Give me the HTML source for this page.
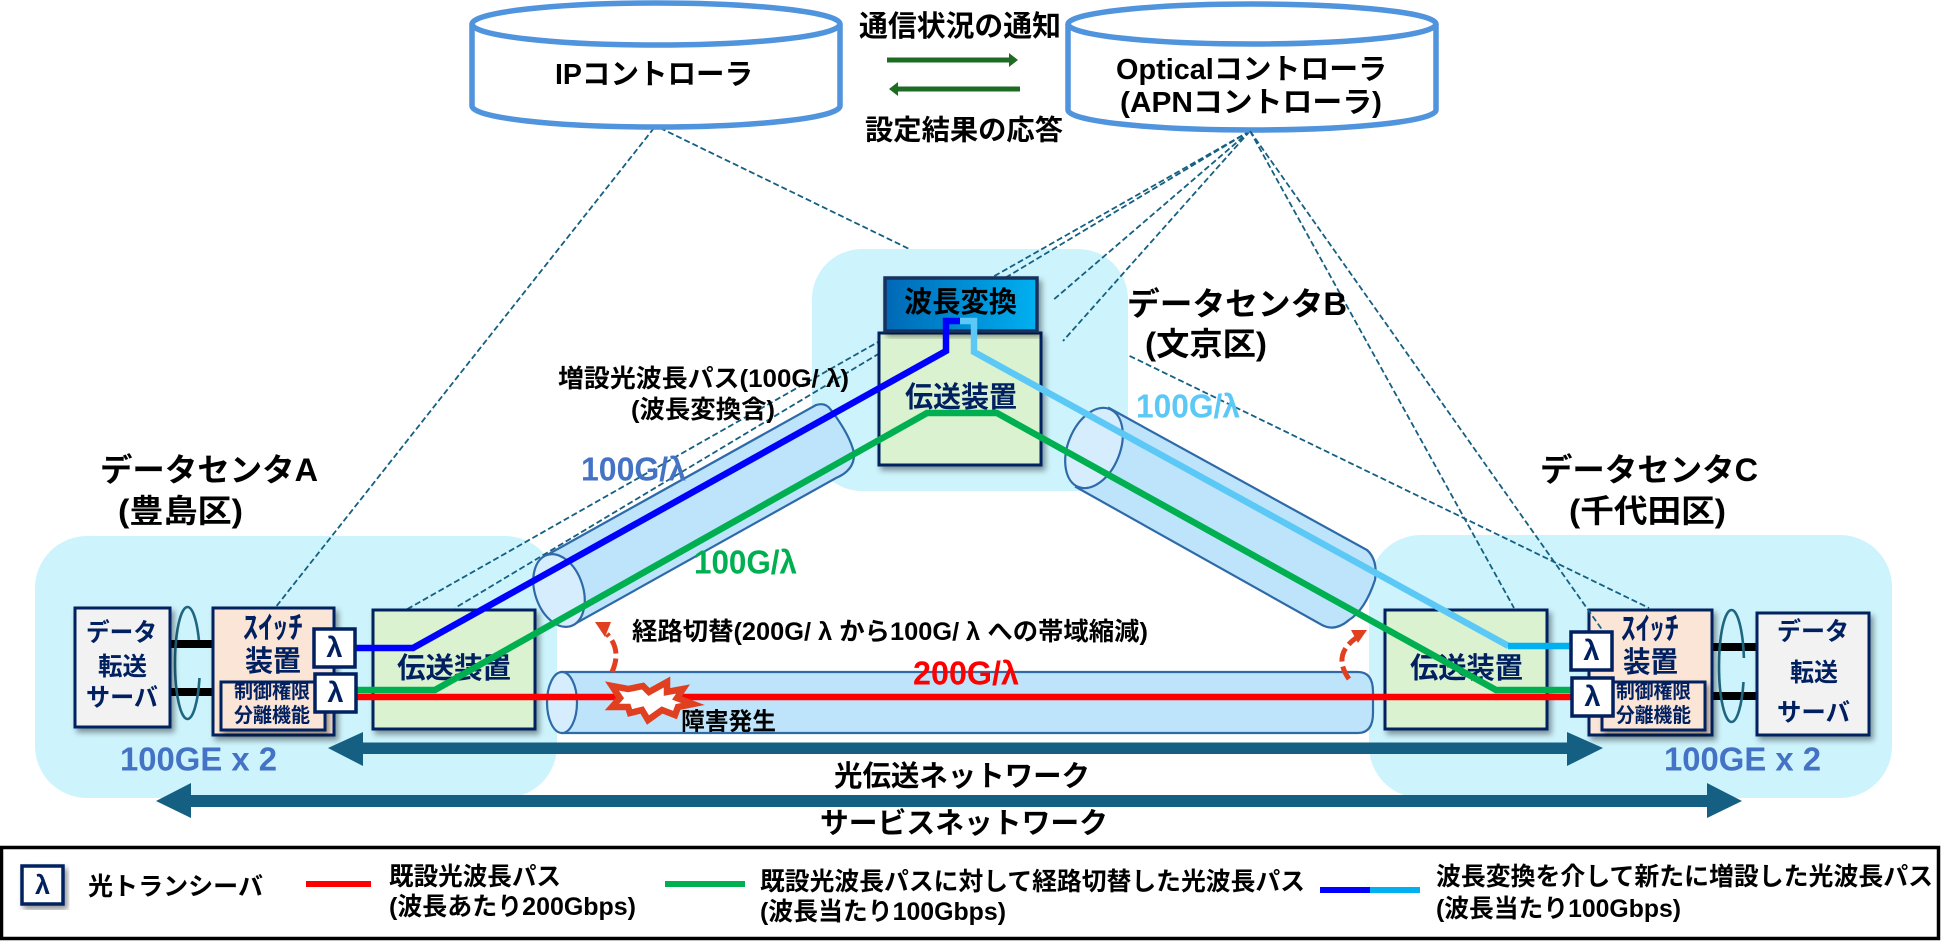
<!DOCTYPE html>
<html lang="ja">
<head>
<meta charset="utf-8">
<title>光波長パス構成図</title>
<style>
html,body{margin:0;padding:0;background:#fff;width:1955px;height:942px;overflow:hidden}
svg{display:block}
text{font-family:"Liberation Sans","Noto Sans CJK JP",sans-serif;font-weight:700;dominant-baseline:central}
.k{fill:#000}
.n{fill:#002060}
.dash{fill:none;stroke:#156082;stroke-width:1.8;stroke-dasharray:6 3}
.box{stroke:#002060;stroke-width:3;filter:url(#sh)}
.tube{fill:#bde4fb;stroke:#2e6aa8;stroke-width:2.2}
.end{fill:#d5edfd;stroke:#2e6aa8;stroke-width:2.2}
.lam{fill:#fff;stroke:#002060;stroke-width:3.5}
.line{fill:none;stroke-width:6.5;stroke-linejoin:miter}
.arc{fill:none;stroke:#1f6680;stroke-width:2.6}
</style>
</head>
<body>
<svg width="1955" height="942" viewBox="0 0 1955 942" xmlns="http://www.w3.org/2000/svg">
<defs>
<filter id="sh" x="-10%" y="-10%" width="125%" height="125%"><feDropShadow dx="3" dy="4" stdDeviation="3" flood-color="#000" flood-opacity=".4"/></filter>
<linearGradient id="wg" x1="0" x2="1" y1="0" y2="0"><stop offset="0" stop-color="#0068b5"/><stop offset="1" stop-color="#00b0f0"/></linearGradient>
</defs>

<!-- regions -->
<rect x="35" y="536" width="522" height="262" rx="52" fill="#cdf3fc"/>
<rect x="1369" y="535" width="523" height="263" rx="52" fill="#cdf3fc"/>

<!-- IP controller dashed links -->
<path class="dash" d="M654,128 L275,608"/>
<path class="dash" d="M660,128 L1649,608"/>

<rect x="812" y="249" width="316" height="242" rx="50" fill="#cdf3fc"/>

<!-- Optical controller dashed links -->
<path class="dash" d="M1250,131 L374,628"/>
<path class="dash" d="M1250,131 L455,608"/>
<path class="dash" d="M1250,131 L1052,301"/>
<path class="dash" d="M1250,131 L1063,341"/>
<path class="dash" d="M1250,131 L1514,608"/>

<!-- controllers -->
<path d="M472,24 V106 A184,21 0 0 0 840,106 V24" fill="#fff" stroke="#4f94dc" stroke-width="5.5"/>
<ellipse cx="656" cy="24" rx="184" ry="21" fill="#fff" stroke="#4f94dc" stroke-width="5.5"/>
<path d="M1068,24 V110 A184,20 0 0 0 1436,110 V24" fill="#fff" stroke="#4f94dc" stroke-width="5.5"/>
<ellipse cx="1252" cy="24" rx="184" ry="20" fill="#fff" stroke="#4f94dc" stroke-width="5.5"/>
<text class="k" x="555" y="75" font-size="29" textLength="198" lengthAdjust="spacingAndGlyphs">IPコントローラ</text>
<text class="k" x="1116" y="70" font-size="29" textLength="271" lengthAdjust="spacingAndGlyphs">Opticalコントローラ</text>
<text class="k" x="1120" y="103" font-size="29" textLength="262" lengthAdjust="spacingAndGlyphs">(APNコントローラ)</text>
<text class="k" x="859" y="27" font-size="29" textLength="202" lengthAdjust="spacingAndGlyphs">通信状況の通知</text>
<text class="k" x="865" y="130" font-size="28" textLength="198" lengthAdjust="spacingAndGlyphs">設定結果の応答</text>
<path d="M887,57.5 H1009 V53 L1018,60 L1009,67 V62.5 H887 Z" fill="#1e6b23"/>
<path d="M1020,86.5 H898 V82 L889,89 L898,96 V91.5 H1020 Z" fill="#1e6b23"/>

<!-- tubes -->
<path class="tube" d="M547,555 L816,405 Q826,402 831,410 Q850,435 854,453 Q855,470 836,478 L571,626 Z"/>
<ellipse class="end" cx="559" cy="590.5" rx="24" ry="37.5" transform="rotate(-18.7 559 590.5)"/>
<path class="tube" d="M1109,408 L1367,550 Q1378,560 1375,580 Q1365,610 1349,620 Q1335,632 1322,625 L1076,487 Z"/>
<ellipse class="end" cx="1094" cy="448" rx="26" ry="42" transform="rotate(22 1094 448)"/>
<path class="tube" d="M562,672 H1358 Q1373,672 1373,692 V713 Q1373,733 1358,733 H562 Z"/>
<ellipse class="end" cx="562" cy="702.5" rx="15" ry="30.5"/>

<!-- data center A -->
<rect x="170" y="640" width="43" height="8" fill="#000"/>
<rect x="170" y="688" width="43" height="8" fill="#000"/>
<path class="arc" d="M187.5,607 A12.5,56 0 0 0 187.5,719"/>
<path class="arc" d="M187.5,607 A12.5,56 0 0 1 198.9,640"/>
<path class="arc" d="M199.5,678 A12.5,56 0 0 1 187.5,719"/>
<rect class="box" x="75" y="608" width="95" height="119" fill="#f2f2f2"/>
<text class="n" x="86" y="633" font-size="25" textLength="71" lengthAdjust="spacingAndGlyphs">データ</text>
<text class="n" x="98" y="667" font-size="25" textLength="49" lengthAdjust="spacingAndGlyphs">転送</text>
<text class="n" x="86" y="698" font-size="25" textLength="72" lengthAdjust="spacingAndGlyphs">サーバ</text>
<rect class="box" x="213" y="608" width="121" height="127" fill="#fbe5d6"/>
<text class="n" x="243" y="628" font-size="31" textLength="60" lengthAdjust="spacingAndGlyphs">ｽｲｯﾁ</text>
<text class="n" x="245" y="662" font-size="29" textLength="56" lengthAdjust="spacingAndGlyphs">装置</text>
<rect class="box" x="221" y="682" width="104" height="48" fill="#fbe5d6"/>
<text class="n" x="234" y="692" font-size="20" textLength="76" lengthAdjust="spacingAndGlyphs">制御権限</text>
<text class="n" x="234" y="716" font-size="20" textLength="76" lengthAdjust="spacingAndGlyphs">分離機能</text>
<rect class="box" x="373" y="610" width="162" height="119" fill="#daf2d0"/>
<text class="n" x="397" y="669" font-size="29" textLength="114" lengthAdjust="spacingAndGlyphs">伝送装置</text>

<!-- data center B -->
<rect class="box" x="879" y="333" width="162" height="132" fill="#daf2d0"/>
<text class="n" x="905" y="398" font-size="29" textLength="112" lengthAdjust="spacingAndGlyphs">伝送装置</text>
<rect x="885" y="278" width="152" height="53" fill="url(#wg)" stroke="#17305e" stroke-width="3.5" filter="url(#sh)"/>
<text class="k" x="904" y="303" font-size="29" textLength="113" lengthAdjust="spacingAndGlyphs">波長変換</text>

<!-- data center C -->
<rect x="1713" y="643" width="44" height="8" fill="#000"/>
<rect x="1713" y="692" width="44" height="8" fill="#000"/>
<path class="arc" d="M1731.5,610 A12.5,56 0 0 0 1731.5,722"/>
<path class="arc" d="M1731.5,610 A12.5,56 0 0 1 1743.9,658"/>
<path class="arc" d="M1743.5,682 A12.5,56 0 0 1 1731.5,722"/>
<rect class="box" x="1757" y="613" width="112" height="122" fill="#f2f2f2"/>
<text class="n" x="1777" y="632" font-size="25" textLength="72" lengthAdjust="spacingAndGlyphs">データ</text>
<text class="n" x="1790" y="673" font-size="25" textLength="48" lengthAdjust="spacingAndGlyphs">転送</text>
<text class="n" x="1777" y="713" font-size="25" textLength="73" lengthAdjust="spacingAndGlyphs">サーバ</text>
<rect class="box" x="1589" y="610" width="123" height="125" fill="#fbe5d6"/>
<text class="n" x="1621" y="629" font-size="31" textLength="58" lengthAdjust="spacingAndGlyphs">ｽｲｯﾁ</text>
<text class="n" x="1623" y="663" font-size="29" textLength="55" lengthAdjust="spacingAndGlyphs">装置</text>
<rect class="box" x="1602" y="682" width="103" height="48" fill="#fbe5d6"/>
<text class="n" x="1616" y="692" font-size="20" textLength="75" lengthAdjust="spacingAndGlyphs">制御権限</text>
<text class="n" x="1616" y="716" font-size="20" textLength="75" lengthAdjust="spacingAndGlyphs">分離機能</text>
<rect class="box" x="1385" y="610" width="162" height="119" fill="#daf2d0"/>
<text class="n" x="1410" y="669" font-size="29" textLength="113" lengthAdjust="spacingAndGlyphs">伝送装置</text>
<path class="dash" d="M1250,131 L1603,631"/>

<!-- wavelength paths -->
<path class="line" stroke="#ff0000" d="M355,697 H1572"/>
<path class="line" stroke="#00b050" d="M355,690 H435 L927,413 H997 L1496,690 H1572"/>
<path class="line" stroke="#5bc8f5" d="M959,321 H974 V352 L1508.5,646"/>
<path class="line" stroke="#00b0f0" d="M1508,646 H1572"/>
<path class="line" stroke="#0000ff" d="M355,648 H413 L946,351 V321 H960"/>

<!-- fault mark and reroute arrows -->
<polygon points="612,686 628,689 643,686 649,692 667,682 667,692 683,689 677,698 693,704 678,707 675,715 662,710 648,720 642,710 630,713 628,707 612,707 620,698" fill="#fff" stroke="#e04020" stroke-width="6.5" stroke-linejoin="miter"/>
<path d="M612,672 Q622,650 607,634" fill="none" stroke="#e04020" stroke-width="5" stroke-dasharray="14 5"/>
<polygon points="595,622 611,622 605,637" fill="#e04020"/>
<path d="M1349,679 Q1332,655 1356,638" fill="none" stroke="#e04020" stroke-width="5" stroke-dasharray="14 5"/>
<polygon points="1367,630 1351,630 1358,643" fill="#e04020"/>

<!-- transceivers -->
<rect class="lam" x="314" y="629" width="41" height="38"/>
<text class="n" x="334.5" y="648" font-size="29" text-anchor="middle">λ</text>
<rect class="lam" x="315" y="674" width="41" height="38"/>
<text class="n" x="335.5" y="693" font-size="29" text-anchor="middle">λ</text>
<rect class="lam" x="1571" y="632" width="41" height="38"/>
<text class="n" x="1591.5" y="651" font-size="29" text-anchor="middle">λ</text>
<rect class="lam" x="1572" y="678" width="41" height="38"/>
<text class="n" x="1592.5" y="697" font-size="29" text-anchor="middle">λ</text>

<!-- network arrows -->
<path d="M328,748 L363,732 V742.5 H1567 V732 L1603,748 L1567,766 V754 H363 V766 Z" fill="#156082"/>
<path d="M156,801 L191,783 V795 H1707 V783 L1742,801 L1707,818 V807 H191 V818 Z" fill="#156082"/>

<!-- labels -->
<text class="k" x="100" y="470" font-size="32" textLength="218" lengthAdjust="spacingAndGlyphs">データセンタA</text>
<text class="k" x="118" y="511" font-size="32" textLength="125" lengthAdjust="spacingAndGlyphs">(豊島区)</text>
<text class="k" x="1127" y="304" font-size="32" textLength="220" lengthAdjust="spacingAndGlyphs">データセンタB</text>
<text class="k" x="1145" y="344" font-size="32" textLength="122" lengthAdjust="spacingAndGlyphs">(文京区)</text>
<text class="k" x="1540" y="470" font-size="32" textLength="218" lengthAdjust="spacingAndGlyphs">データセンタC</text>
<text class="k" x="1569" y="511" font-size="32" textLength="157" lengthAdjust="spacingAndGlyphs">(千代田区)</text>
<text class="k" x="558" y="379" font-size="25" textLength="291" lengthAdjust="spacingAndGlyphs">増設光波長パス(100G/ λ)</text>
<text class="k" x="631" y="410" font-size="25" textLength="144" lengthAdjust="spacingAndGlyphs">(波長変換含)</text>
<text x="581" y="469" font-size="33" fill="#4472c4" textLength="105" lengthAdjust="spacingAndGlyphs">100G/λ</text>
<text x="1136" y="406" font-size="33" fill="#5bc8f5" textLength="104" lengthAdjust="spacingAndGlyphs">100G/λ</text>
<text x="694" y="562" font-size="33" fill="#00b050" textLength="103" lengthAdjust="spacingAndGlyphs">100G/λ</text>
<text x="913" y="673" font-size="33" fill="#ff0000" textLength="106" lengthAdjust="spacingAndGlyphs">200G/λ</text>
<text class="k" x="632" y="632" font-size="25" textLength="516" lengthAdjust="spacingAndGlyphs">経路切替(200G/ λ から100G/ λ への帯域縮減)</text>
<text class="k" x="681" y="722" font-size="24" textLength="95" lengthAdjust="spacingAndGlyphs">障害発生</text>
<text class="k" x="834" y="777" font-size="29" textLength="256" lengthAdjust="spacingAndGlyphs">光伝送ネットワーク</text>
<text class="k" x="820" y="824" font-size="29" textLength="288" lengthAdjust="spacingAndGlyphs">サービスネットワーク</text>
<text x="120" y="759" font-size="33" fill="#4472c4" textLength="157" lengthAdjust="spacingAndGlyphs">100GE x 2</text>
<text x="1664" y="759" font-size="33" fill="#4472c4" textLength="157" lengthAdjust="spacingAndGlyphs">100GE x 2</text>

<!-- legend -->
<rect x="1.5" y="847.5" width="1937" height="91" fill="#fff" stroke="#000" stroke-width="3.5"/>
<rect class="lam" x="22" y="866" width="41" height="38" filter="url(#sh)"/>
<text class="n" x="42.5" y="885" font-size="27" text-anchor="middle">λ</text>
<text class="k" x="88" y="887" font-size="25" textLength="175" lengthAdjust="spacingAndGlyphs">光トランシーバ</text>
<rect x="306" y="881" width="65" height="6" fill="#ff0000"/>
<text class="k" x="389" y="877" font-size="25" textLength="172" lengthAdjust="spacingAndGlyphs">既設光波長パス</text>
<text class="k" x="389" y="907" font-size="25" textLength="247" lengthAdjust="spacingAndGlyphs">(波長あたり200Gbps)</text>
<rect x="665" y="881" width="80" height="6" fill="#00b050"/>
<text class="k" x="760" y="882" font-size="25" textLength="545" lengthAdjust="spacingAndGlyphs">既設光波長パスに対して経路切替した光波長パス</text>
<text class="k" x="760" y="912" font-size="25" textLength="246" lengthAdjust="spacingAndGlyphs">(波長当たり100Gbps)</text>
<rect x="1320" y="887" width="50" height="6" fill="#0000ff"/>
<rect x="1370" y="887" width="50" height="6" fill="#00b0f0"/>
<text class="k" x="1436" y="877" font-size="25" textLength="497" lengthAdjust="spacingAndGlyphs">波長変換を介して新たに増設した光波長パス</text>
<text class="k" x="1436" y="909" font-size="25" textLength="245" lengthAdjust="spacingAndGlyphs">(波長当たり100Gbps)</text>
</svg>
</body>
</html>
